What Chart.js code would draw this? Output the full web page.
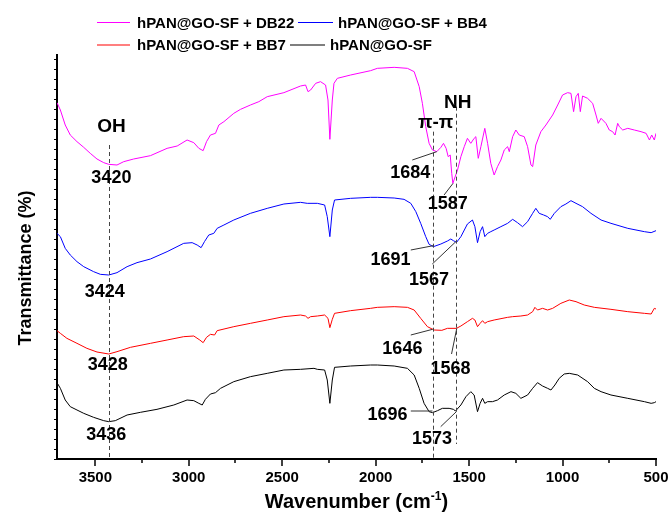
<!DOCTYPE html>
<html>
<head>
<meta charset="utf-8">
<script src="https://cdn.jsdelivr.net/npm/chart.js@4.4.1/dist/chart.umd.min.js"></script>
<style>
html,body{margin:0;padding:0;background:#fff;}
#wrap{width:671px;height:513px;position:relative;}
</style>
</head>
<body>
<div id="wrap"><canvas id="c" width="671" height="513"></canvas></div>
<script>
// ---- Data (wavenumber in cm-1, transmittance in arbitrary offset units) ----
const seriesLabels = ['hPAN@GO-SF + DB22', 'hPAN@GO-SF + BB4', 'hPAN@GO-SF + BB7', 'hPAN@GO-SF'];

const wnDB22 = [3705,3687,3661,3634,3598,3562,3527,3491,3455,3428,3384,3348,3295,3205,3116,3062,3009,2973,2946,2923,2905,2884,2857,2839,2812,2759,2723,2670,2625,2580,2491,2402,2375,2362,2348,2321,2295,2268,2255,2245,2232,2223,2205,2134,2027,
  1991,1901,1830,1794,1767,1750,1732,1714,1696,1673,1651,1637,1623,1612,1601,1593,1587,1562,1544,1526,1509,1491,1473,1464,1451,1437,1416,1401,1384,1366,1348,1330,1312,1294,1285,1267,1250,1232,1205,1187,1169,1160,1143,1116,1089,1053,1026,1000,973,955,941,928,916,905,893,866,839,821,809,794,768,750,732,719,705,696,678,651,616,580,553,535,523,509,500];
const tDB22 = [106.9,104.7,100.2,97.2,95.2,93.5,91.7,90.0,88.9,88.4,88.2,89.2,90.0,91.0,93.2,93.9,95.7,94.9,93.2,92.5,95.2,97.2,97.7,100.2,101.2,103.7,104.9,106.2,107.2,108.7,109.9,111.9,112.2,110.2,110.7,112.7,113.2,112.2,107.7,95.9,107.7,112.7,114.2,115.2,116.5,
  117.2,117.5,117.2,116.2,111.7,106.7,99.7,94.7,92.7,92.2,93.5,94.7,93.2,90.7,91.2,85.7,82.7,86.7,90.7,93.7,96.2,94.7,96.2,96.7,90.2,93.7,99.2,94.7,88.7,85.2,87.7,89.7,92.7,93.7,92.2,96.7,98.7,97.2,96.7,93.7,88.2,87.7,94.2,98.2,100.2,103.2,106.2,109.2,109.9,109.7,104.2,108.7,109.7,104.2,108.9,108.2,106.7,103.2,100.7,102.2,100.7,98.7,98.2,97.2,100.7,99.7,98.7,99.2,98.7,98.2,97.7,95.7,97.2,95.7,97.7];

const wnBB4 = [3705,3687,3661,3634,3598,3562,3509,3473,3428,3384,3330,3277,3205,3116,3027,2982,2955,2934,2916,2893,2866,2848,2812,2759,2670,2580,2491,2402,2366,2312,2273,2259,2245,2232,2220,2134,2027,
  1991,1901,1848,1812,1785,1759,1732,1714,1691,1651,1616,1598,1584,1567,1544,1509,1482,1469,1455,1441,1428,1416,1401,1384,1366,1330,1294,1267,1241,1214,1187,1160,1143,1125,1101,1080,1066,1044,1009,982,955,928,893,848,794,741,651,562,526,500];
const tBB4 = [67.7,66.7,63.2,61.2,59.2,57.7,56.2,55.4,55.2,55.9,57.7,58.9,60.0,62.2,64.7,64.9,64.2,63.4,65.2,67.2,67.7,69.2,70.2,71.7,73.7,75.2,76.5,77.0,76.7,76.7,76.2,72.7,66.7,74.7,77.7,78.2,78.5,
  78.5,78.3,77.9,76.7,74.2,70.7,66.7,64.4,63.7,64.5,65.4,66.0,65.5,65.0,66.7,70.5,71.7,69.7,64.9,68.2,69.7,66.7,67.7,68.2,68.7,69.7,70.7,71.9,70.9,69.7,71.2,73.7,75.2,73.7,73.2,72.7,71.9,73.7,75.7,76.5,77.5,76.7,75.7,73.7,71.7,70.7,69.2,68.2,67.9,68.5];

const wnBB7 = [3705,3687,3652,3598,3545,3491,3428,3384,3312,3205,3116,3027,2973,2941,2923,2905,2884,2862,2848,2759,2670,2580,2491,2402,2375,2362,2348,2312,2273,2255,2245,2232,2220,2134,2027,
  1991,1901,1830,1794,1759,1723,1687,1646,1616,1568,1544,1509,1482,1469,1455,1441,1428,1416,1401,1366,1294,1267,1223,1187,1160,1148,1134,1107,1080,1053,1009,964,928,884,830,741,651,562,526,509,500];
const tBB7 = [38.5,37.7,36.2,34.7,33.2,32.1,31.5,32.2,33.5,34.7,35.7,36.7,36.9,35.7,34.9,36.5,37.4,37.2,38.5,39.7,40.7,41.7,42.7,43.2,42.9,42.2,42.7,42.9,43.2,42.2,39.4,41.9,43.7,44.5,45.2,
  45.5,45.7,45.5,44.7,42.2,39.7,38.7,38.6,39.2,39.2,39.9,41.2,42.2,41.7,39.7,40.7,41.5,40.7,41.2,41.7,42.5,42.7,42.9,43.2,44.2,45.5,44.7,45.2,44.7,45.2,46.7,47.7,47.2,46.2,45.5,44.9,44.2,43.7,43.5,45.2,45.0];

const wnGOSF = [3705,3687,3661,3634,3598,3562,3509,3455,3428,3393,3330,3259,3170,3080,3009,2973,2946,2928,2911,2884,2857,2830,2759,2670,2580,2491,2402,2330,2312,2273,2259,2245,2232,2220,2134,2027,
  1991,1901,1830,1794,1767,1741,1714,1696,1669,1643,1607,1584,1573,1544,1517,1491,1473,1455,1441,1428,1416,1401,1375,1348,1312,1276,1250,1223,1187,1160,1134,1107,1080,1062,1041,1018,991,964,919,866,830,794,741,651,562,526,509,500];
const tGOSF = [22.9,21.2,17.7,15.7,14.7,13.7,12.5,11.5,11.2,11.5,13.2,14.0,14.9,16.2,17.7,17.5,16.7,16.2,17.9,19.5,19.9,21.2,23.2,24.7,25.7,26.7,26.9,27.2,26.9,26.7,23.7,16.7,23.7,27.5,27.9,28.2,
  28.2,27.9,27.2,25.2,21.2,16.7,14.2,13.9,14.5,15.2,15.2,14.9,14.4,16.2,18.7,20.2,19.2,14.2,16.7,18.2,16.7,17.2,17.2,17.7,19.2,20.2,19.7,18.2,19.2,21.2,22.9,21.9,21.2,20.7,22.2,24.2,25.5,25.7,25.2,23.2,21.2,20.2,19.2,18.2,17.2,16.7,16.9,17.2];

const xTickValues = [3500,3000,2500,2000,1500,1000,500];
const xMinorValues = [3250,2750,2250,1750,1250,750];

// Peak annotations: [text, wavenumber, value]
const peakLabels = [
  ['3420',3414,84.3],['3424',3450,50.2],['3428',3434,28.2],['3436',3441,7.2],
  ['1684',1815,85.7],['1587',1614,76.5],['1691',1920,59.7],['1567',1714,53.7],
  ['1646',1857,32.85],['1568',1600,27.1],['1696',1937,13.2],['1573',1699,5.85]
];
const bandLabels = [['OH',3414,99.6],['NH',1561,106.8],['\u03c0-\u03c0',1679,100.8]];
// dashed guide lines: [wavenumber, from, to]
const guideLines = [[3429,94.2,0],[1691,98.2,0.3],[1568,105.7,4.5]];
// leader lines: [wn1, v1, wn2, v2]
const leaders = [
  [1804,89.7,1673,92.2],[1634,79.2,1586,82.7],[1812,62.7,1691,64.0],[1697,58.5,1571,65.2],
  [1812,37.2,1696,38.9],[1594,31.5,1566,39.2],[1812,14.4,1696,14.4],[1652,9.7,1568,14.2]
];

const colors = ['#ff00ff','#0000ff','#ff0000','#000000'];
const FONT = '"Liberation Sans", Arial, Helvetica, sans-serif';

function pts(xs, ys){ const n=Math.min(xs.length, ys.length); const a=[]; for(let i=0;i<n;i++) a.push({x:xs[i], y:ys[i]}); return a; }

const overlay = {
  id:'overlay',
  afterDraw(chart){
    const {ctx, chartArea:ca} = chart;
    const xs = chart.scales.x, ys = chart.scales.y;
    ctx.save();
    // x ticks
    ctx.strokeStyle='#000'; ctx.lineWidth=1.5;
    xTickValues.forEach(v=>{ const p=Math.round(xs.getPixelForValue(v)); ctx.beginPath(); ctx.moveTo(p, ca.bottom); ctx.lineTo(p, ca.bottom+7); ctx.stroke(); });
    xMinorValues.forEach(v=>{ const p=Math.round(xs.getPixelForValue(v)); ctx.beginPath(); ctx.moveTo(p, ca.bottom); ctx.lineTo(p, ca.bottom+4); ctx.stroke(); });
    // guide dashed lines
    ctx.strokeStyle='#444'; ctx.lineWidth=1; ctx.setLineDash([4,3]);
    guideLines.forEach(g=>{ const p=Math.round(xs.getPixelForValue(g[0]))+0.5; ctx.beginPath(); ctx.moveTo(p, ys.getPixelForValue(g[1])); ctx.lineTo(p, ys.getPixelForValue(g[2])); ctx.stroke(); });
    ctx.setLineDash([]);
    // leader lines
    ctx.strokeStyle='#333'; ctx.lineWidth=1;
    leaders.forEach(l=>{ ctx.beginPath(); ctx.moveTo(xs.getPixelForValue(l[0]), ys.getPixelForValue(l[1])); ctx.lineTo(xs.getPixelForValue(l[2]), ys.getPixelForValue(l[3])); ctx.stroke(); });
    // labels
    ctx.fillStyle='#000'; ctx.textAlign='center'; ctx.textBaseline='middle';
    ctx.font='bold 18px '+FONT;
    peakLabels.forEach(l=>{ ctx.fillText(l[0], xs.getPixelForValue(l[1]), ys.getPixelForValue(l[2])); });
    ctx.font='bold 19px '+FONT;
    bandLabels.forEach(l=>{ ctx.fillText(l[0], xs.getPixelForValue(l[1]), ys.getPixelForValue(l[2])); });
    // axis titles
    ctx.textBaseline='alphabetic';
    const cx = (ca.left+ca.right)/2;
    ctx.font='bold 20px '+FONT;
    const t1='Wavenumber (cm', t3=')';
    const w1=ctx.measureText(t1).width, w3=ctx.measureText(t3).width;
    ctx.font='bold 12px '+FONT; const t2='-1'; const w2=ctx.measureText(t2).width;
    let sx = cx - (w1+w2+w3)/2;
    ctx.textAlign='left';
    ctx.font='bold 20px '+FONT; ctx.fillText(t1, sx, 508);
    ctx.font='bold 12px '+FONT; ctx.fillText(t2, sx+w1, 500);
    ctx.font='bold 20px '+FONT; ctx.fillText(t3, sx+w1+w2, 508);
    ctx.save();
    ctx.translate(30.5, 268); ctx.rotate(-Math.PI/2);
    ctx.textAlign='center'; ctx.font='bold 18px '+FONT;
    ctx.fillText('Transmittance (%)', 0, 0);
    ctx.restore();
    // legend
    const leg = [[97,130,137,22.5,27.5],[298,333,338,22.5,27.5],[97,130,137,45,50],[290,325,330,45,50]];
    ctx.font='bold 15px '+FONT; ctx.textAlign='left';
    chart.data.datasets.forEach((ds,i)=>{
      const L=leg[i];
      ctx.strokeStyle=ds.borderColor; ctx.lineWidth=1.2;
      ctx.beginPath(); ctx.moveTo(L[0], L[3]); ctx.lineTo(L[1], L[3]); ctx.stroke();
      ctx.fillStyle='#000'; ctx.fillText(ds.label, L[2], L[4]);
    });
    // y axis small ticks
    ctx.strokeStyle='#000'; ctx.lineWidth=1;
    for(let v=0; v<=121; v+=3){ const p=Math.round(ys.getPixelForValue(v))+0.5; ctx.beginPath(); ctx.moveTo(ca.left-3, p); ctx.lineTo(ca.left, p); ctx.stroke(); }
    ctx.restore();
  }
};

new Chart(document.getElementById('c'), {
  type:'line',
  data:{
    datasets:[
      {label:seriesLabels[0], data:pts(wnDB22,tDB22), borderColor:colors[0]},
      {label:seriesLabels[1], data:pts(wnBB4,tBB4), borderColor:colors[1]},
      {label:seriesLabels[2], data:pts(wnBB7,tBB7), borderColor:colors[2]},
      {label:seriesLabels[3], data:pts(wnGOSF,tGOSF), borderColor:colors[3]}
    ].map(d=>Object.assign(d,{borderWidth:1, pointRadius:0, tension:0, fill:false}))
  },
  options:{
    responsive:false, animation:false, devicePixelRatio:1,
    layout:{padding:{top:55,right:15,left:0,bottom:0}},
    plugins:{legend:{display:false}, tooltip:{enabled:false}},
    scales:{
      x:{type:'linear', reverse:true, min:500, max:3705,
        afterBuildTicks(s){ s.ticks = xTickValues.map(v=>({value:v})); },
        ticks:{color:'#000', font:{family:FONT, size:15, weight:'bold'}, padding:10, maxRotation:0, autoSkip:false, includeBounds:false,
          callback:(v)=>String(v)},
        grid:{display:false, drawTicks:false},
        border:{display:true, color:'#000', width:2},
        afterFit(s){ s.height=54; s.paddingLeft=0; s.paddingRight=0; }
      },
      y:{min:0, max:121.2,
        ticks:{display:false},
        grid:{display:false, drawTicks:false},
        border:{display:true, color:'#000', width:2},
        afterFit(s){ s.width=57; }
      }
    }
  },
  plugins:[overlay]
});
</script>
</body>
</html>
